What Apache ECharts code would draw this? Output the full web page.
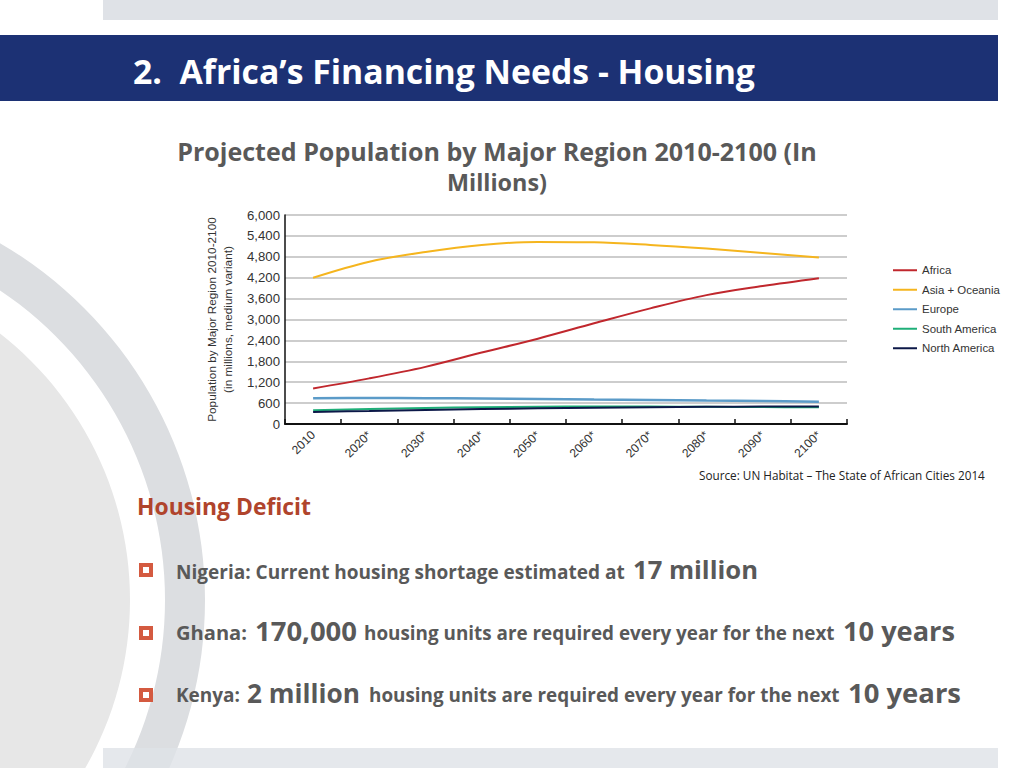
<!DOCTYPE html>
<html>
<head>
<meta charset="utf-8">
<script src="https://cdn.jsdelivr.net/npm/echarts@6/dist/echarts.min.js"></script>
<style>
html,body{margin:0;padding:0;background:#fff;}
#c{width:1024px;height:768px;}
</style>
</head>
<body>
<div id="c"></div>
<script>
// ---------------- data ----------------
const years = ['2010','2020*','2030*','2040*','2050*','2060*','2070*','2080*','2090*','2100*'];
const seriesNames = ['Africa','Asia + Oceania','Europe','South America','North America'];
const africa        = [1022, 1310, 1640, 2050, 2450, 2890, 3320, 3700, 3960, 4185];
const asiaOceania   = [4200, 4660, 4940, 5140, 5225, 5215, 5140, 5035, 4910, 4780];
const europe        = [740, 745, 740, 730, 715, 700, 690, 675, 660, 640];
const southAmerica  = [395, 430, 460, 480, 495, 500, 500, 495, 487, 478];
const northAmerica  = [345, 375, 405, 430, 450, 468, 482, 493, 500, 505];
const seriesColors  = ['#c0272d', '#f5b51e', '#5b9bc8', '#1faf78', '#0c1848'];

const slideTitle = '2.  Africa\u2019s Financing Needs - Housing';
const chartTitle1 = 'Projected Population by Major Region 2010-2100 (In';
const chartTitle2 = 'Millions)';
const yAxisName1 = 'Population by Major Region 2010-2100';
const yAxisName2 = '(in millions, medium variant)';
const sourceText = 'Source: UN Habitat \u2013 The State of African Cities 2014';
const deficitHeading = 'Housing Deficit';

// ---------------- helpers ----------------
const SLIDE = '"Open Sans", "DejaVu Sans", sans-serif';
const NARROW = '"Liberation Sans Narrow", "Arial Narrow", "Liberation Sans", Arial, sans-serif';
const mctx = document.createElement('canvas').getContext('2d');

function fit(text, weight, family, width) {
  mctx.font = weight + ' 100px ' + family;
  return 100 * width / mctx.measureText(text).width;
}
function txt(text, x0, x1, baseline, weight, fill, family, align) {
  const size = fit(text, weight, family || SLIDE, x1 - x0);
  const center = align === 'center';
  return {
    type: 'text', z: 5,
    x: center ? (x0 + x1) / 2 : x0,
    y: baseline - 0.357 * size,
    style: {
      text: text, fill: fill,
      font: weight + ' ' + size.toFixed(2) + 'px ' + (family || SLIDE),
      textAlign: center ? 'center' : 'left',
      textVerticalAlign: 'middle', verticalAlign: 'middle'
    }
  };
}
function bullet(cy) {
  return { type: 'rect', z: 5, shape: { x: 141, y: cy - 5, width: 10, height: 10 },
           style: { fill: '#fff', stroke: '#d45a40', lineWidth: 4 } };
}

// chart font sizes sized from the reference's text widths (slightly enlarged: reference uses a condensed face)
const nameSize = fit(yAxisName1, 'normal', NARROW, 205);
const legendSize = fit('Asia + Oceania', 'normal', NARROW, 78);
const yLabelSize = fit('6,000', 'normal', NARROW, 33);
const xLabelSize = fit('2010', 'normal', NARROW, 27);

const GREY = '#595959';
const graphics = [
  { type: 'circle', z: 0, shape: { cx: -208, cy: 600, r: 338 }, style: { fill: '#e7e7e7' } },
  { type: 'ring', z: 0, shape: { cx: -208, cy: 600, r: 413, r0: 373 }, style: { fill: '#dcdee1' } },
  { type: 'rect', z: 1, shape: { x: 103, y: 0, width: 895, height: 20 }, style: { fill: '#dfe2e7' } },
  { type: 'rect', z: 1, shape: { x: 103, y: 748, width: 895, height: 20 }, style: { fill: '#dfe2e7', opacity: 0.8 } },
  { type: 'rect', z: 1, shape: { x: 0, y: 35, width: 998, height: 66 }, style: { fill: '#1c3174' } },
  txt(slideTitle, 133, 755, 83, 'bold', '#ffffff'),
  txt(chartTitle1, 177, 817, 160, 'bold', GREY, SLIDE, 'center'),
  txt(chartTitle2, 447, 547, 190, 'bold', GREY, SLIDE, 'center'),
  txt(sourceText, 699, 985, 479, 'normal', '#222222'),
  txt(deficitHeading, 137, 311, 515, 'bold', '#b0442c'),
  bullet(570), bullet(633), bullet(695),
  txt('Nigeria: Current housing shortage estimated at', 176, 625, 578.5, 'bold', GREY),
  txt('17 million', 633, 758, 578.5, 'bold', GREY),
  txt('Ghana:', 176, 247, 640, 'bold', GREY),
  txt('170,000', 255, 357, 640, 'bold', GREY),
  txt('housing units are required every year for the next', 364, 835, 640, 'bold', GREY),
  txt('10 years', 843, 955, 640, 'bold', GREY),
  txt('Kenya:', 176, 240, 702, 'bold', GREY),
  txt('2 million', 247, 360, 702, 'bold', GREY),
  txt('housing units are required every year for the next', 369, 840, 702, 'bold', GREY),
  txt('10 years', 848, 961, 702, 'bold', GREY)
];

const dataSets = [africa, asiaOceania, europe, southAmerica, northAmerica];
const series = seriesNames.map((name, i) => ({
  name: name, type: 'line', data: dataSets[i], smooth: 0.35,
  symbol: 'none', color: seriesColors[i],
  lineStyle: { width: i === 2 ? 2.5 : 2, color: seriesColors[i] },
  z: i === 4 ? 4 : 3
}));

const chart = echarts.init(document.getElementById('c'), null, { renderer: 'svg', width: 1024, height: 768 });
chart.setOption({
  animation: false,
  backgroundColor: '#ffffff',
  graphic: graphics,
  grid: { left: 285, right: 177, top: 215, bottom: 344, containLabel: false },
  legend: {
    orient: 'vertical', left: 893, top: 263, padding: 0,
    icon: 'rect', itemWidth: 24, itemHeight: 2, itemGap: 5,
    textStyle: { fontFamily: NARROW, fontSize: legendSize, color: '#333', lineHeight: 14.5 },
    data: seriesNames
  },
  xAxis: {
    type: 'category', data: years, boundaryGap: true,
    axisLine: { lineStyle: { color: '#111', width: 2 } },
    axisTick: { show: true, inside: true, length: 5, lineStyle: { color: '#111', width: 1.5 } },
    axisLabel: { rotate: 45, margin: 9, fontFamily: NARROW, fontSize: xLabelSize, color: '#333' },
    splitLine: { show: false }
  },
  yAxis: {
    type: 'value', min: 0, max: 6000, interval: 600,
    name: yAxisName1 + '\n' + yAxisName2, nameLocation: 'middle', nameGap: 48, nameRotate: 90,
    nameTextStyle: { fontFamily: NARROW, fontSize: nameSize, color: '#333', lineHeight: 16 },
    axisLine: { show: true, lineStyle: { color: '#111', width: 1.5 } },
    axisTick: { show: false },
    axisLabel: { margin: 5, fontFamily: NARROW, fontSize: yLabelSize, color: '#333',
                 formatter: v => v.toLocaleString('en-US') },
    splitLine: { lineStyle: { color: '#bdbdbd', width: 1.5 } }
  },
  series: series
});
</script>
</body>
</html>
